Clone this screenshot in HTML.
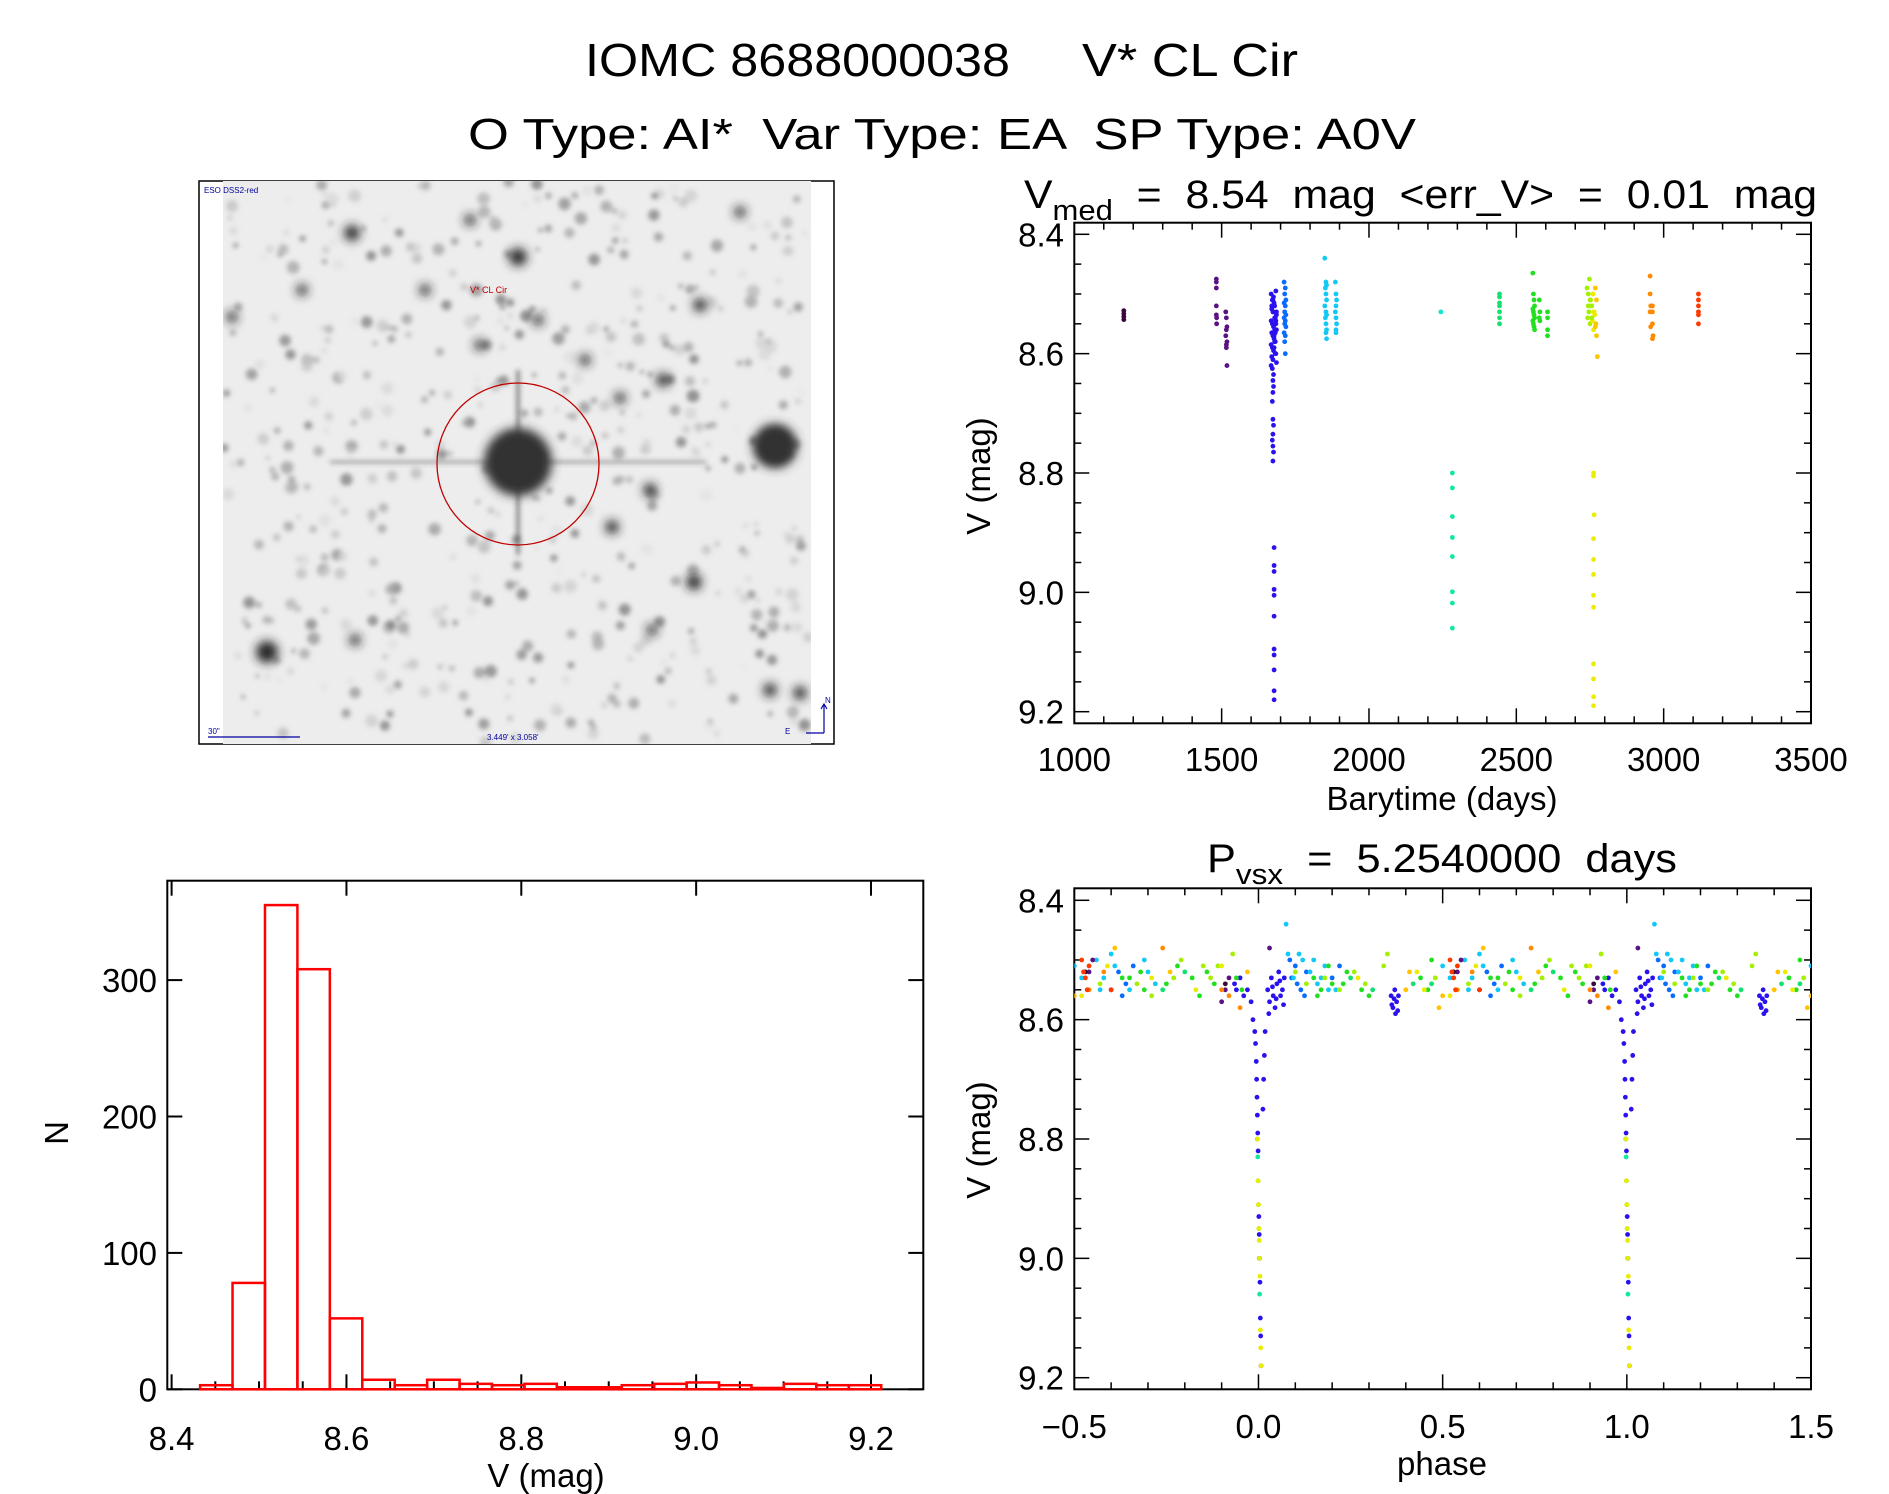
<!DOCTYPE html>
<html><head><meta charset="utf-8"><style>
html,body{margin:0;padding:0;background:#fff;}
svg{display:block;font-family:"Liberation Sans",sans-serif;}
</style></head><body>
<svg id="fig" width="1889" height="1494" viewBox="0 0 1889 1494" xmlns="http://www.w3.org/2000/svg">
<defs>
<clipPath id="clipLC"><rect x="1074.3" y="222.7" width="736.7" height="500.6"/></clipPath>
<clipPath id="clipPH"><rect x="1074.3" y="888.3" width="736.7" height="501"/></clipPath>
<clipPath id="clipImg"><rect x="223" y="181" width="588" height="563"/></clipPath>
<filter id="blur2" x="-50%" y="-50%" width="200%" height="200%"><feGaussianBlur stdDeviation="2.5"/></filter>
<filter id="blur5" x="-50%" y="-50%" width="200%" height="200%"><feGaussianBlur stdDeviation="5"/></filter>
</defs>
<g>
<text x="585" y="76" font-size="46" textLength="425" lengthAdjust="spacingAndGlyphs" fill="#000">IOMC 8688000038</text>
<text x="1082" y="76" font-size="46" textLength="216" lengthAdjust="spacingAndGlyphs" fill="#000">V* CL Cir</text>
<text x="468" y="149" font-size="44" textLength="948" lengthAdjust="spacingAndGlyphs" fill="#000" xml:space="preserve">O Type: AI*  Var Type: EA  SP Type: A0V</text>
<text x="1024" y="208" font-size="40" textLength="793" lengthAdjust="spacingAndGlyphs" fill="#000">V<tspan font-size="29" dy="12">med</tspan><tspan dy="-12" xml:space="preserve">  =  8.54  mag  &lt;err_V&gt;  =  0.01  mag</tspan></text>
<text x="1207" y="872" font-size="40" textLength="470" lengthAdjust="spacingAndGlyphs" fill="#000">P<tspan font-size="29" dy="12">vsx</tspan><tspan dy="-12" xml:space="preserve">  =  5.2540000  days</tspan></text>
</g>
<g id="finder"></g>
<g id="hist"></g>
<g id="lc"></g>
<g id="ph"></g>
</svg>
<script>
// ---------- Histogram data ----------
const histBinStart = 8.4326;
const histBinWidth = 0.0371;
const histCounts = [3,78,355,308,52,7,3,7,4,3,4,1.5,1.5,3,4,5,3,1,4,3,3];
const histXTicks = [8.4,8.6,8.8,9.0,9.2];
const histYTicks = [0,100,200,300];

// ---------- Light curve data (time in days, V mag) ----------
const obsTime = [
1168,1168,1168,1168,
1482,1482,1482,1482,1482,1483,1483,
1514,1516,1518,1516,1514,1518,1516,1516,1518,
1668,1672,1676,1680,1684,1670,1674,1678,1682,1686,1668,1672,1676,1680,1684,1670,1674,1678,1682,1686,
1668,1672,1676,1680,1684,1670,1674,1678,1682,1686,1668,1672,1676,1680,1684,1670,1674,1678,1682,1686,
1676,1674,1676,1674,1672,1674,1676,1674,1672,1674,1676,1674,1678,1678,1678,1678,1678,1678,1678,1678,1678,1678,1678,
1712,1716,1714,1718,1712,1716,1714,1718,1712,1716,1714,1718,1712,1716,1714,1716,
1850,1854,1856,1852,1854,1856,1850,1854,1856,1852,1854,1856,1854,1856,
1886,1888,1890,1888,1886,1888,1890,1888,1888,
2244,2283,2283,2283,2283,2283,2283,2283,2283,
2443,2443,2443,2443,2443,2443,2443,
2556,2558,2560,2562,2556,2558,2560,2562,2556,2558,2560,2562,
2578,2580,2578,2580,2606,2606,2606,2606,
2740,2744,2748,2752,2756,2760,2764,2768,2772,2742,2746,2750,2754,2758,2762,2766,2770,2744,2750,2756,2762,2768,2772,2760,
2762,2762,2764,2762,2762,2762,2762,2762,2762,2762,2762,2762,2775,
2954,2954,2956,2954,2956,2962,2962,2962,2964,2962,
3118,3118,3118,3118,3118,3118
];
const obsMag = [
8.528,8.533,8.538,8.543,
8.475,8.48,8.49,8.52,8.535,8.54,8.55,
8.53,8.54,8.555,8.56,8.57,8.58,8.585,8.59,8.62,
8.50,8.51,8.505,8.52,8.495,8.525,8.53,8.515,8.54,8.535,8.545,8.55,8.555,8.56,8.545,8.565,8.57,8.575,8.58,8.56,
8.585,8.59,8.595,8.58,8.6,8.605,8.61,8.59,8.6,8.615,8.62,8.625,8.53,8.54,8.55,8.52,8.51,8.57,8.565,8.53,
8.635,8.645,8.655,8.665,8.68,8.71,8.72,8.735,8.745,8.755,8.765,8.78,8.925,8.955,8.965,8.995,9.005,9.04,9.095,9.105,9.13,9.165,9.18,
8.48,8.49,8.50,8.51,8.515,8.52,8.53,8.535,8.54,8.545,8.55,8.555,8.565,8.57,8.58,8.60,
8.44,8.48,8.485,8.49,8.50,8.51,8.52,8.53,8.535,8.54,8.55,8.56,8.565,8.575,
8.48,8.50,8.51,8.52,8.53,8.54,8.55,8.56,8.565,
8.53,8.80,8.825,8.873,8.908,8.94,8.999,9.018,9.06,
8.50,8.505,8.515,8.52,8.53,8.54,8.55,
8.465,8.50,8.51,8.52,8.525,8.53,8.535,8.54,8.545,8.55,8.555,8.56,
8.51,8.53,8.54,8.545,8.53,8.54,8.56,8.57,
8.49,8.50,8.475,8.51,8.52,8.50,8.53,8.49,8.51,8.54,8.53,8.55,8.52,8.545,8.56,8.535,8.55,8.52,8.51,8.54,8.53,8.555,8.57,8.50,
8.80,8.805,8.87,8.91,8.945,8.97,9.005,9.025,9.12,9.145,9.175,9.19,8.605,
8.47,8.50,8.52,8.53,8.555,8.52,8.53,8.55,8.57,8.575,
8.50,8.51,8.52,8.53,8.535,8.55
];
const lcXTicks = [1000,1500,2000,2500,3000,3500];
const magTicks = [8.4,8.6,8.8,9.0,9.2];

// ---------- Phased data (phase in [0,1), V mag), grouped by season ----------
const phBlueP = [0.025,0.03,0.035,0.04,0.045,0.05,0.055,0.06,0.065,0.07,0.028,0.038,0.048,0.058,0.068,0.36,0.365,0.37,0.372,0.375,0.38,0.362,0.368,0.378,0.935,0.94,0.95,0.96,0.97,0.98,0.985,
  0.99,0.992,0.994,0.995,0.996,0.997,0.998,0.999,0.001,0.002,0.003,0.004,0.005,0.006,0.007,0.012,0.014,0.016,0.018];
const phBlueM = [8.55,8.57,8.53,8.56,8.58,8.54,8.52,8.56,8.55,8.53,8.59,8.545,8.565,8.535,8.575,8.56,8.58,8.55,8.59,8.57,8.56,8.575,8.565,8.585,8.54,8.55,8.53,8.56,8.55,8.57,8.60,
  8.62,8.64,8.67,8.70,8.73,8.76,8.79,8.82,8.93,8.96,9.0,9.04,9.1,9.13,9.18,8.75,8.70,8.66,8.62];
const phAzureP = [0.085,0.09,0.10,0.115,0.13,0.2,0.22,0.62,0.64,0.66,0.105,0.125,0.63];
const phAzureM = [8.50,8.53,8.51,8.55,8.52,8.53,8.51,8.52,8.54,8.51,8.54,8.56,8.56];
const phCyanP = [0.075,0.08,0.095,0.12,0.14,0.16,0.18,0.21,0.56,0.58,0.6,0.65,0.7,0.72,0.5,0.52,0.11,0.15,0.17,0.19,0.57,0.61,0.69];
const phCyanM = [8.44,8.49,8.53,8.50,8.52,8.54,8.51,8.55,8.50,8.53,8.49,8.55,8.52,8.54,8.51,8.53,8.49,8.50,8.53,8.55,8.55,8.51,8.50];
const phPurpleP = [0.03,0.6,0.92,0.9,0.55,0.54,0.91];
const phPurpleM = [8.48,8.55,8.53,8.57,8.50,8.52,8.55];
const phDarkP = [0.53,0.91];
const phDarkM = [8.52,8.54];
const phTealP = [0.997,0.998,0.999,0.0,0.001,0.002,0.003];
const phTealM = [8.80,8.83,8.87,8.91,8.95,9.0,9.06];
const phSeaP = [0.25,0.42,0.74,0.8,0.31,0.47];
const phSeaM = [8.53,8.54,8.55,8.52,8.55,8.54];
const phGreenP = [0.15,0.17,0.19,0.23,0.24,0.28,0.44,0.46,0.47,0.63,0.68,0.69,0.75,0.78,0.82,0.84,0.86,0.88,0.94,0.955,0.16,0.2,0.3,0.65];
const phGreenM = [8.53,8.55,8.51,8.54,8.52,8.55,8.53,8.55,8.50,8.53,8.52,8.55,8.54,8.51,8.53,8.56,8.52,8.54,8.53,8.55,8.56,8.54,8.56,8.53];
const phLimeP = [0.1,0.13,0.26,0.29,0.35,0.34,0.48,0.57,0.67,0.77,0.79,0.87,0.93,0.89,0.18,0.22,0.71,0.85];
const phLimeM = [8.52,8.54,8.52,8.54,8.49,8.51,8.53,8.54,8.54,8.53,8.50,8.53,8.49,8.51,8.53,8.55,8.56,8.51];
const phYellowP = [0.27,0.43,0.45,0.52,0.59,0.71,0.83,0.9,0.998,0.999,0.0,0.001,0.002,0.003,0.004,0.005,0.006,0.007];
const phYellowM = [8.53,8.52,8.55,8.56,8.51,8.53,8.55,8.51,8.80,8.87,8.91,8.95,8.97,9.0,9.03,9.12,9.15,9.18];
const phAmberP = [0.4,0.41,0.49,0.5,0.61,0.76,0.97];
const phAmberM = [8.55,8.52,8.58,8.56,8.48,8.52,8.52];
const phOrangeP = [0.9,0.92,0.58,0.74,0.54,0.95];
const phOrangeM = [8.55,8.56,8.52,8.48,8.55,8.58];
const phRedP = [0.52,0.525,0.53,0.535,0.54,0.6];
const phRedM = [8.50,8.52,8.53,8.55,8.51,8.55];
const phSeasonTime = [1680,1715,1870,1500,1168,2283,2443,2580,2750,2762,2772,2960,3118];
const phPhases = [phBlueP,phAzureP,phCyanP,phPurpleP,phDarkP,phTealP,phSeaP,phGreenP,phLimeP,phYellowP,phAmberP,phOrangeP,phRedP];
const phMags = [phBlueM,phAzureM,phCyanM,phPurpleM,phDarkM,phTealM,phSeaM,phGreenM,phLimeM,phYellowM,phAmberM,phOrangeM,phRedM];
const phXTicks = [-0.5,0.0,0.5,1.0,1.5];

// ---------- helpers ----------
const NS = "http://www.w3.org/2000/svg";
function mk(tag, attrs, parent){
  const e = document.createElementNS(NS, tag);
  for (const k in attrs) e.setAttribute(k, attrs[k]);
  parent.appendChild(e);
  return e;
}
const palStops = [[1168,'#3a0838'],[1500,'#5a1282'],[1680,'#2a12ee'],[1715,'#0a6cff'],[1870,'#12c8f4'],[2244,'#12e8cc'],[2283,'#12e8a0'],[2443,'#12e070'],[2580,'#22e020'],[2750,'#a4f000'],[2762,'#ecec00'],[2772,'#ffc400'],[2960,'#ff8a00'],[3118,'#ff3a00']];
function colorFor(t){
  let best = palStops[0], bd = 1e9;
  for (const s of palStops){ const d = Math.abs(s[0]-t); if (d < bd){ bd = d; best = s; } }
  return best[1];
}

// ---------- Finder chart ----------
(function(){
  const g = document.getElementById('finder');
  const frame = mk('rect', {x:199, y:181, width:635, height:563, fill:'none', stroke:'#000', 'stroke-width':1.5}, g);
  
  
  const img = mk('g', {'clip-path':'url(#clipImg)'}, g);
  
  
  mk('rect', {x:223, y:181, width:588, height:563, fill:'#ededed'}, img);
  let seed = 12345;
  function rnd(){ seed = (seed*1103515245 + 12345) % 2147483648; return seed/2147483648; }
  const faint = mk('g', {filter:'url(#blur2)'}, img);
  for (let i=0;i<520;i++){
    const x = 223 + rnd()*588, y = 181 + rnd()*563, r = 2 + rnd()*4.5, s = Math.floor(110 + rnd()*120);
    mk('circle', {cx:x, cy:y, r:r, fill:`rgb(${s},${s},${s})`, opacity:0.7}, faint);
  }
  const bright = mk('g', {filter:'url(#blur5)'}, img);
  const stars = [[518,462,18],[775,446,14],[267,652,10],[518,257,8],[352,233,7],[700,305,6],[650,490,6],[612,527,6],[694,582,7],[770,690,6],[800,693,6],[538,320,5],[425,290,5],[480,345,5],[652,630,5],[355,640,5],[232,317,5],[302,290,5],[663,380,6],[620,398,5],[470,220,5],[740,212,5],[585,360,5]];
  for (const s of stars){
    mk('circle', {cx:s[0], cy:s[1], r:s[2]*1.1, fill:'#222'}, bright);
  }
  const spikes = mk('g', {filter:'url(#blur2)', stroke:'#333'}, img);
  mk('line', {x1:330, y1:462, x2:706, y2:462, 'stroke-width':2.5, opacity:0.5}, spikes);
  mk('line', {x1:518, y1:370, x2:518, y2:555, 'stroke-width':3.5, opacity:0.6}, spikes);
  mk('circle', {cx:518, cy:462, r:34, fill:'#333', filter:'url(#blur5)'}, img);
  mk('circle', {cx:775, cy:446, r:22, fill:'#333', filter:'url(#blur5)'}, img);
  const circ = mk('circle', {cx:518, cy:464, r:81, fill:'none', stroke:'#c00000', 'stroke-width':1.3}, g);
  
  
  const lab = mk('text', {x:470, y:293, 'font-size':9, fill:'#c00000'}, g);
  lab.textContent = "V* CL Cir";
  
  
  const hdr = mk('text', {x:204, y:193, 'font-size':8, fill:'#0000a0'}, g);
  hdr.textContent = "ESO DSS2-red";
  
  
  mk('line', {x1:208, y1:737, x2:300, y2:737, stroke:'#0000a0', 'stroke-width':1.2}, g);
  const sc = mk('text', {x:208, y:734, 'font-size':8, fill:'#0000a0'}, g);
  sc.textContent = '30"';
  
  
  const fov = mk('text', {x:487, y:740, 'font-size':8, fill:'#0000a0'}, g);
  fov.textContent = "3.449' x 3.058'";
  
  
  mk('path', {d:'M824 733 H806 M824 733 V705 M821 709 L824 704 L827 709', fill:'none', stroke:'#0000a0', 'stroke-width':1.2}, g);
  const nl = mk('text', {x:825, y:703, 'font-size':8, fill:'#0000a0'}, g); nl.textContent = "N";
  
  
  const el = mk('text', {x:785, y:734, 'font-size':8, fill:'#0000a0'}, g); el.textContent = "E";
  
  
})();

function drawFrame(g, L, T, R, B){
  const f = mk('rect', {x:L, y:T, width:R-L, height:B-T, fill:'none', stroke:'#000', 'stroke-width':2}, g);
  
  
}
function label(g, x, y, txt, size, anchor, name, rot){
  const t = mk('text', {x:x, y:y, 'font-size':size, 'text-anchor':anchor||'middle', fill:'#000'}, g);
  if (rot) t.setAttribute('transform', `rotate(${rot} ${x} ${y})`);
  t.textContent = txt;
  
  
  return t;
}

// ---------- Histogram ----------
(function(){
  const g = document.getElementById('hist');
  const L=167.3, T=880.7, R=923.3, B=1389.3;
  const X = v => 171.6 + (v-8.4)/0.8*(871-171.6);
  const Y = n => B - n*1.364;
  drawFrame(g, L, T, R, B);
  for (let v=8.4; v<=9.25; v+=0.05){
    const x = X(v); const major = Math.abs(((v-8.4)/0.2) - Math.round((v-8.4)/0.2)) < 1e-6;
    mk('line', {x1:x, y1:B, x2:x, y2:B-(major?15:8), stroke:'#000', 'stroke-width':2}, g);
    if (major) mk('line', {x1:x, y1:T, x2:x, y2:T+15, stroke:'#000', 'stroke-width':2}, g);
  }
  histXTicks.forEach(v => label(g, X(v), 1450, v.toFixed(1), 33, 'middle', 'x-tick-label'));
  histYTicks.forEach(n => {
    mk('line', {x1:L, y1:Y(n), x2:L+15, y2:Y(n), stroke:'#000', 'stroke-width':2}, g);
    mk('line', {x1:R, y1:Y(n), x2:R-15, y2:Y(n), stroke:'#000', 'stroke-width':2}, g);
    label(g, 157, Y(n)+12, String(n), 33, 'end', 'y-tick-label');
  });
  label(g, 546, 1487, 'V (mag)', 33, 'middle', 'x-axis-title');
  label(g, 68, 1133, 'N', 33, 'middle', 'y-axis-title', -90);
  histCounts.forEach((c,i) => {
    const x0 = X(histBinStart + i*histBinWidth), x1 = X(histBinStart + (i+1)*histBinWidth);
    const r = mk('rect', {x:x0, y:Y(c), width:x1-x0, height:B-Y(c), fill:'none', stroke:'#ff0000', 'stroke-width':2.5}, g);
    
    
  });
})();

// ---------- Light curve ----------
(function(){
  const g = document.getElementById('lc');
  const L=1074.3, T=222.7, R=1811, B=723.3;
  const X = t => L + (t-1000)/2500*(R-L);
  const Y = v => 234.3 + (v-8.4)/0.8*477.4;
  drawFrame(g, L, T, R, B);
  for (let t=1000; t<=3500; t+=100){
    const major = t % 500 === 0;
    mk('line', {x1:X(t), y1:B, x2:X(t), y2:B-(major?15:7), stroke:'#000', 'stroke-width':1.5}, g);
    mk('line', {x1:X(t), y1:T, x2:X(t), y2:T+(major?15:7), stroke:'#000', 'stroke-width':1.5}, g);
  }
  for (let v=8.4; v<=9.201; v+=0.05){
    const major = Math.abs(((v-8.4)/0.2) - Math.round((v-8.4)/0.2)) < 1e-6;
    mk('line', {x1:L, y1:Y(v), x2:L+(major?15:7), y2:Y(v), stroke:'#000', 'stroke-width':1.5}, g);
    mk('line', {x1:R, y1:Y(v), x2:R-(major?15:7), y2:Y(v), stroke:'#000', 'stroke-width':1.5}, g);
  }
  lcXTicks.forEach(t => label(g, X(t), 771, String(t), 33, 'middle', 'x-tick-label'));
  magTicks.forEach(v => label(g, 1064, Y(v)+12, v.toFixed(1), 33, 'end', 'y-tick-label'));
  label(g, 1442, 810, 'Barytime (days)', 33, 'middle', 'x-axis-title');
  label(g, 990, 476, 'V (mag)', 33, 'middle', 'y-axis-title', -90);
  const pts = mk('g', {'clip-path':'url(#clipLC)'}, g);
  
  
  obsTime.forEach((t,i) => {
    const c = mk('circle', {cx:X(t), cy:Y(obsMag[i]), r:2.4, fill:colorFor(t)}, pts);
    
    
  });
})();

// ---------- Phased light curve ----------
(function(){
  const g = document.getElementById('ph');
  const L=1074.3, T=888.3, R=1811, B=1389.3;
  const X = p => L + (p+0.5)/2*(R-L);
  const Y = v => 900.3 + (v-8.4)/0.8*477.4;
  drawFrame(g, L, T, R, B);
  for (let k=0; k<=20; k++){
    const p = -0.5 + k*0.1, major = k % 5 === 0;
    mk('line', {x1:X(p), y1:B, x2:X(p), y2:B-(major?15:7), stroke:'#000', 'stroke-width':1.5}, g);
    mk('line', {x1:X(p), y1:T, x2:X(p), y2:T+(major?15:7), stroke:'#000', 'stroke-width':1.5}, g);
  }
  for (let v=8.4; v<=9.201; v+=0.05){
    const major = Math.abs(((v-8.4)/0.2) - Math.round((v-8.4)/0.2)) < 1e-6;
    mk('line', {x1:L, y1:Y(v), x2:L+(major?15:7), y2:Y(v), stroke:'#000', 'stroke-width':1.5}, g);
    mk('line', {x1:R, y1:Y(v), x2:R-(major?15:7), y2:Y(v), stroke:'#000', 'stroke-width':1.5}, g);
  }
  phXTicks.forEach(p => label(g, X(p), 1438, (p<0?'\u2212':'') + Math.abs(p).toFixed(1), 33, 'middle', 'x-tick-label'));
  magTicks.forEach(v => label(g, 1064, Y(v)+12, v.toFixed(1), 33, 'end', 'y-tick-label'));
  label(g, 1442, 1475, 'phase', 33, 'middle', 'x-axis-title');
  label(g, 990, 1140, 'V (mag)', 33, 'middle', 'y-axis-title', -90);
  const pts = mk('g', {'clip-path':'url(#clipPH)'}, g);
  
  
  phPhases.forEach((arr, si) => {
    const col = colorFor(phSeasonTime[si]);
    arr.forEach((p, i) => {
      [-1,0,1].forEach(off => {
        const q = p + off;
        if (q < -0.52 || q > 1.52) return;
        const c = mk('circle', {cx:X(q), cy:Y(phMags[si][i]), r:2.4, fill:col}, pts);
        
        
      });
    });
  });
})();
</script>
</body></html>
